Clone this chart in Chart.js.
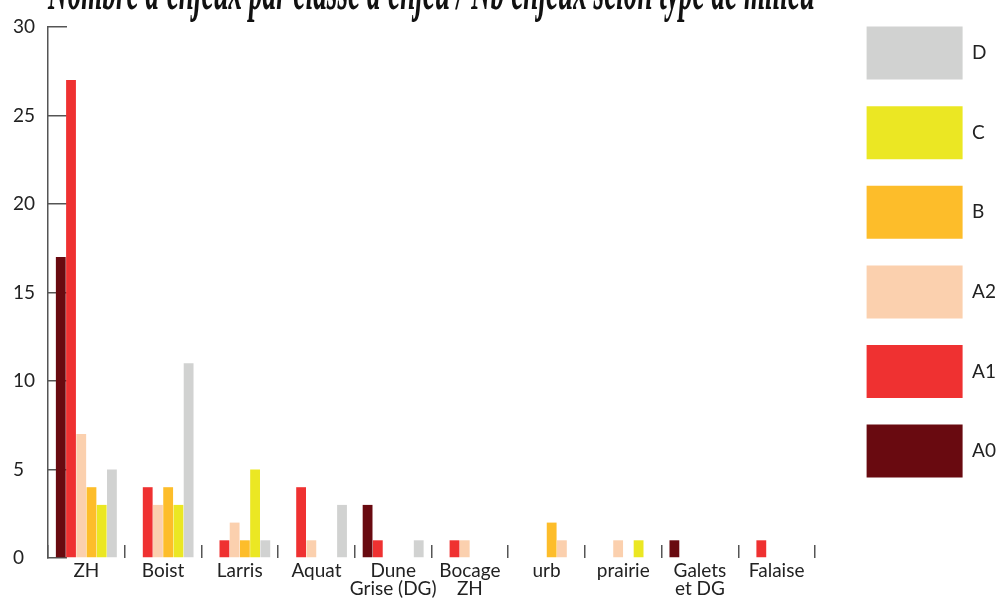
<!DOCTYPE html>
<html>
<head>
<meta charset="utf-8">
<script src="https://cdn.jsdelivr.net/npm/chart.js@4.4.1/dist/chart.umd.min.js"></script>
<style>
  html, body { margin: 0; padding: 0; background: #fff; }
  #wrap { width: 999px; height: 601px; position: relative; }
</style>
</head>
<body>
<div id="wrap"><canvas id="chart"></canvas></div>
<script>
// ── Milieux (catégories) ──
const MILIEUX = ['ZH', 'Boist', 'Larris', 'Aquat', ['Dune', 'Grise (DG)'], ['Bocage', 'ZH'], 'urb', 'prairie', ['Galets', 'et DG'], 'Falaise'];

// ── Nb d'enjeux par classe ──
const A0 = [17, 0, 0, 0, 3, 0, 0, 0, 1, 0];
const A1 = [27, 4, 1, 4, 1, 1, 0, 0, 0, 1];
const A2 = [7, 3, 2, 1, 0, 1, 0, 1, 0, 0];
const B  = [4, 4, 1, 0, 0, 0, 2, 0, 0, 0];
const C  = [3, 3, 5, 0, 0, 0, 1, 1, 0, 0];
const D  = [5, 11, 1, 3, 1, 0, 0, 0, 0, 0];

const Y_TICKS = [0, 5, 10, 15, 20, 25, 30];

const COLORS = {
  A0: '#690a10', A1: '#ef3131', A2: '#fbd0ae',
  B: '#fdbd2a', C: '#ebe723', D: '#d1d2d1',
};

const FONT = 'Lato, "Open Sans", sans-serif';

function ds(label, data) {
  return {
    label, data,
    backgroundColor: COLORS[label],
    borderWidth: 0,
    categoryPercentage: 0.8,
    barPercentage: 0.96,
  };
}

const datasets = [ds('A0', A0), ds('A1', A1), ds('A2', A2), ds('B', B), ds('C', C), ds('D', D)];
// the 'urb' C bar is peach in the original
datasets[4].backgroundColor = ctx => MILIEUX[ctx.dataIndex] === 'urb' ? COLORS.A2 : COLORS.C;

new Chart(document.getElementById('chart'), {
  type: 'bar',
  data: { labels: MILIEUX, datasets },
  options: {
    responsive: true, maintainAspectRatio: false, animation: false,
    layout: { padding: { left: 13, top: 0, right: 0, bottom: 0 } },
    plugins: {
      tooltip: { enabled: false },
      title: {
        display: true, fullSize: false, position: 'top',
        text: "Nombre d'enjeux par classe d'enjeu / Nb enjeux selon type de milieu",
        color: '#111',
        font: { family: '"Liberation Serif", serif', size: 60, style: 'italic', weight: 'bold', lineHeight: 1 },
        padding: { top: -37, bottom: 4 },
      },
      legend: {
        position: 'right', align: 'start', reverse: true, maxWidth: 159,
        labels: {
          boxWidth: 96, boxHeight: 53, padding: 26.6,
          color: '#222', font: { family: FONT, size: 19 },
        },
      },
    },
    scales: {
      x: {
        grid: { offset: true, drawOnChartArea: false, drawTicks: true, tickLength: -13, color: '#555', lineWidth: 1.5 },
        border: { display: false },
        ticks: { color: '#222', padding: 17, maxRotation: 0, autoSkip: false, font: { family: FONT, size: 19, lineHeight: 0.95 } },
        afterFit: s => { s.height = 43; },
      },
      y: {
        min: 0, max: 30,
        afterBuildTicks: s => { s.ticks = Y_TICKS.map(v => ({ value: v })); },
        grid: { drawOnChartArea: false, drawTicks: true, tickLength: -19, color: '#555', lineWidth: 1.5 },
        border: { display: true, color: '#555', width: 1.5 },
        ticks: { crossAlign: 'far', color: '#222', font: { family: FONT, size: 19 } },
        afterFit: s => { s.width = 35; },
      },
      // empty axis, keeps the gap before the legend
      gap: {
        axis: 'y', position: 'right', display: true,
        grid: { display: false }, border: { display: false }, ticks: { display: false },
        afterFit: s => { s.width = 25; },
      },
    },
  },
});
</script>
</body>
</html>
